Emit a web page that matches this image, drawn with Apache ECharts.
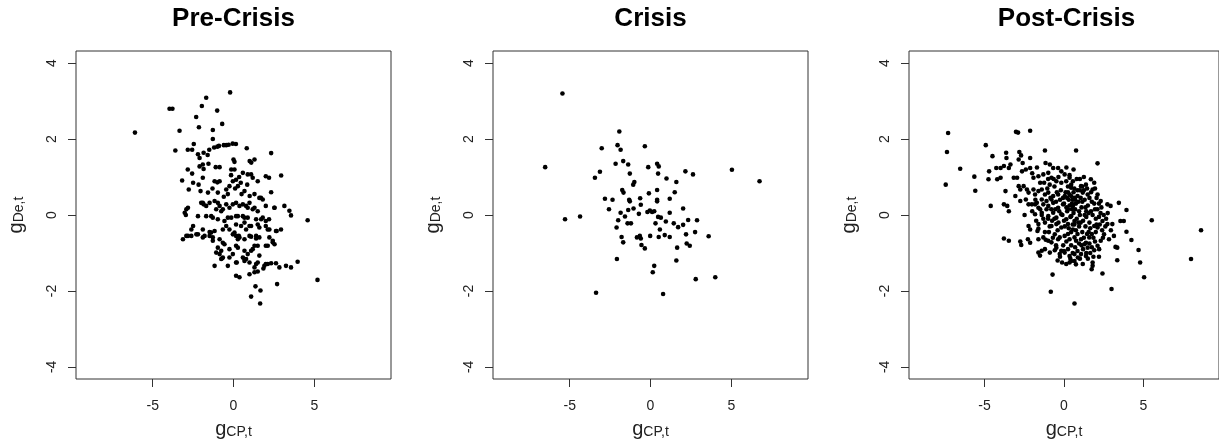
<!DOCTYPE html>
<html>
<head>
<meta charset="utf-8">
<script src="https://cdn.jsdelivr.net/npm/echarts@6/dist/echarts.min.js"></script>
<style>html,body{margin:0;padding:0;background:#fff;}#c{width:1219px;height:448px;}</style>
</head>
<body>
<div id="c"></div>
<script>
// ---- data ----
const panelTitles = ['Pre-Crisis', 'Crisis', 'Post-Crisis'];
const xTicks = [-5, 0, 5];
const yTicks = [-4, -2, 0, 2, 4];

const preCrisis = [
[-6.1,2.17],[-3.96,2.8],[-3.78,2.8],[-3.34,2.22],[-3.6,1.7],[-1.69,3.09],[-1.96,2.87],[-2.31,2.58],[-2.14,2.31],[-1.01,2.75],[-1.28,2.24],[-1.28,2.0],[-0.7,2.4],[-0.21,3.23],[0.82,1.76],[2.33,1.63],[2.95,1.04],
[-1.5,1.72],[-1.2,1.78],[-0.9,1.82],[-0.6,1.84],[-0.3,1.85],[-0.05,1.88],[0.15,1.87],[-1.0,1.8],[-0.45,1.84],
[-2.46,1.87],[-2.83,1.72],[-2.56,1.72],[-2.2,1.6],[-2.1,1.5],[-1.85,1.64],[-1.6,1.58],[-1.9,1.33],[-1.55,1.35],
[0.0,1.46],[0.06,1.4],[1.0,1.42],[1.3,1.46],[1.1,1.38],
[-2.83,1.2],[-2.56,1.09],[-3.18,0.91],[-2.77,0.67],[-2.1,1.28],[-1.85,1.21],[-1.1,1.26],[-0.86,1.26],[-1.9,0.98],[-1.17,0.89],[-0.86,0.89],[-1.0,0.86],[-0.14,1.2],[0.06,1.2],[0.58,1.11],[0.88,1.07],[1.09,1.07],[1.19,0.98],[1.5,0.89],[2.0,1.02],[2.2,0.98],
[-2.16,0.8],[-2.04,0.63],[-1.58,0.59],[-0.97,0.59],[-0.45,0.67],[-0.25,0.76],[-0.04,0.89],[0.16,0.93],[0.27,0.76],[0.68,0.63],[1.0,0.5],[1.7,0.45],[2.33,0.6],[-0.35,0.55],[0.1,0.7],[0.45,0.85],[-0.6,0.48],[1.3,0.55],[0.85,0.8],[-1.3,0.7],[-2.5,0.85],[-0.15,1.05],[0.35,1.0],[0.5,0.55],
[-3.02,0.06],[-2.92,0.15],[-2.82,0.19],[-2.95,0.0],[-2.2,-0.03],[-2.0,0.32],[-1.85,0.28],[-1.69,-0.03],[-1.38,-0.03],[-1.17,0.37],[-0.97,0.32],[-0.86,0.24],[-0.66,0.15],[-0.45,0.28],[-0.25,0.19],[0.16,0.32],[0.37,0.24],[0.58,0.28],[0.78,0.24],[0.99,0.32],[1.3,0.19],[1.6,0.45],[1.81,0.41],[2.0,0.24],[2.53,0.19],[3.15,0.24],[3.46,0.11],[3.56,-0.01],[4.59,-0.14],
[-1.28,-0.07],[-0.97,-0.11],[-0.56,-0.16],[-0.14,-0.07],[0.16,-0.03],[0.58,-0.03],[0.88,-0.07],[1.4,-0.11],[1.71,-0.11],[2.0,-0.16],
[-2.5,-0.29],[-2.61,-0.38],[-1.9,-0.38],[-1.38,-0.46],[-1.17,-0.42],[-0.66,-0.38],[-0.45,-0.29],[-0.25,-0.38],[0.16,-0.25],[0.47,-0.29],[0.68,-0.2],[0.99,-0.29],[1.5,-0.25],[1.6,-0.33],[2.0,-0.29],[2.22,-0.38],[2.63,-0.42],[2.94,-0.38],
[-3.13,-0.64],[-2.82,-0.55],[-2.61,-0.55],[-2.2,-0.51],[-1.9,-0.59],[-1.48,-0.55],[-1.28,-0.59],[-1.28,-0.68],[-0.86,-0.64],[-0.66,-0.73],[-0.56,-0.77],[-0.04,-0.51],[0.16,-0.55],[0.37,-0.59],[0.68,-0.64],[0.99,-0.55],[1.4,-0.55],[1.6,-0.59],[2.22,-0.59],[2.43,-0.68],
[-0.97,-0.86],[-0.76,-0.94],[-0.86,-1.03],[-0.66,-1.12],[-0.76,-1.16],[-0.25,-0.9],[0.16,-0.81],[0.27,-0.86],[0.68,-0.94],[0.88,-1.03],[0.68,-1.16],[1.19,-0.9],[1.5,-0.81],[2.12,-0.81],[-0.25,-1.12],
[-1.17,-1.34],[-0.35,-1.34],[0.16,-1.25],[0.68,-1.21],[0.99,-1.25],[1.4,-1.29],[1.3,-1.38],[1.91,-1.34],[2.12,-1.29],[2.33,-1.27],[2.63,-1.27],[2.84,-1.38],[3.25,-1.34],[3.56,-1.38],[3.97,-1.23],
[0.16,-1.6],[0.37,-1.64],[0.99,-1.56],[1.3,-1.51],[1.5,-1.49],[5.2,-1.71],[2.7,-1.82],[1.36,-1.88],[1.67,-1.99],[1.09,-2.15],[1.65,-2.33],
[-1.9,0.32],[-1.07,0.15],[-0.76,0.10],[-0.04,0.28],[0.88,0.19],[1.19,0.15],[1.5,0.10],[2.54,0.19],[-1.48,0.32],[-1.69,0.24],[-0.35,-0.07],[0.27,-0.03],[0.68,-0.07],[1.81,-0.07],[2.2,-0.11],[-1.48,-0.45],[0.06,-0.46],[0.33,-0.55],[0.78,-0.38],[1.09,-0.29],[2.12,-0.38],[2.67,-0.42],[-2.92,-0.55],[-2.3,-0.51],[-1.79,-0.55],[0.27,-0.64],[1.09,-0.57],[1.4,-0.62],[2.43,-0.72],[2.54,-0.77],[-1.07,-0.99],[1.3,-0.81],[2.0,-0.81],[-0.7,-1.14],[-0.04,-1.03],[0.58,-1.12],[0.78,-1.16],[1.09,-0.94],[1.6,-1.07],[0.2,-1.25],[1.5,-1.25],[2.0,-1.29],[1.85,-1.41]
];

const crisis = [
[-5.45,3.2],[-6.52,1.26],[-1.93,2.2],[-2.04,1.84],[-1.85,1.72],[-3.02,1.76],[-0.35,1.81],[-2.16,1.35],[-1.69,1.42],[-1.38,1.33],[-3.13,1.14],[-3.44,0.98],[-1.28,1.09],[-0.14,1.26],[0.41,1.35],[0.51,1.28],[0.47,1.09],[0.99,0.96],[1.6,0.87],[2.16,1.15],[2.63,1.07],[5.04,1.19],[6.75,0.89],[-1.0,0.87],[-1.07,0.8],[-1.75,0.66],[-1.67,0.59],[0.41,0.66],[-0.1,0.57],[1.5,0.6],[-2.82,0.43],[-2.35,0.4],[-1.32,0.4],[-1.28,0.36],[-0.64,0.44],[-0.6,0.27],[0.41,0.4],[0.41,0.36],[1.19,0.43],[-2.57,0.15],[-1.85,0.06],[-1.38,0.13],[-1.05,0.17],[-0.72,0.03],[-0.19,0.08],[-0.04,0.12],[0.1,0.08],[0.23,0.1],[1.19,0.06],[2.02,0.17],[-5.29,-0.11],[-4.36,-0.04],[-2.0,-0.14],[-1.58,-0.04],[-2.1,-0.33],[-1.42,-0.22],[-1.21,-0.22],[0.31,-0.22],[0.47,-0.05],[0.64,-0.07],[0.95,-0.17],[1.44,-0.22],[1.71,-0.32],[2.02,-0.26],[2.33,-0.13],[2.88,-0.14],[0.58,-0.38],[-1.79,-0.58],[-1.69,-0.72],[-0.84,-0.59],[-0.66,-0.55],[-0.6,-0.62],[-0.02,-0.55],[0.51,-0.58],[0.88,-0.53],[1.19,-0.58],[2.2,-0.51],[2.76,-0.45],[3.6,-0.56],[-0.56,-0.79],[-0.35,-0.88],[1.65,-0.86],[2.24,-0.75],[2.43,-0.81],[-2.08,-1.16],[1.6,-1.2],[0.23,-1.34],[0.14,-1.51],[2.8,-1.69],[4.01,-1.64],[-3.37,-2.05],[0.78,-2.08]
];

const postCrisis = [
[-7.29,2.16],[-7.36,1.66],[-7.44,0.8],[-6.53,1.22],[-5.64,1.01],[-5.58,0.64],[-4.92,1.84],[-4.61,0.24],[-4.5,1.55],[-4.71,1.15],[-4.75,0.94],[-4.26,1.24],[-3.99,1.24],[-3.78,1.29],[-4.2,0.94],[-3.99,0.98],[-3.64,1.64],[-3.62,1.5],[-3.78,0.28],[-3.57,0.24],[-3.47,0.1],[-3.47,1.24],[-3.37,1.33],[-3.68,0.63],[-3.78,-0.62],[-3.47,-0.68],[-3.02,2.19],[-2.89,2.17],[-2.13,2.22],[-2.81,1.66],[-2.7,1.57],[-2.85,1.46],[-2.6,1.37],[-2.13,1.5],[-2.95,0.98],[-2.64,1.15],[-2.4,1.2],[-2.13,1.24],[-3.16,0.98],[-2.85,0.76],[-2.75,0.67],[-3.06,0.5],[-2.54,0.76],[-2.33,0.67],[-2.23,0.59],[-2.75,0.37],[-2.4,0.41],[-2.23,0.28],[-1.92,0.67],[-1.82,0.54],[-2.48,0.0],[-2.23,-0.29],[-2.13,-0.38],[-2.75,-0.7],[-2.69,-0.79],[-2.27,-0.64],[-2.13,-0.73],[-1.67,-0.42],[-1.2,1.7],[-1.16,1.37],[-0.89,1.33],[-0.68,1.24],[-0.37,1.24],[-0.17,1.15],[0.04,1.07],[0.76,1.7],[-1.92,0.98],[-1.61,1.02],[-1.3,1.07],[-0.99,1.11],[-0.79,0.98],[-0.48,0.89],[-0.17,0.85],[0.14,0.89],[0.45,0.8],[-1.61,0.63],[-1.4,0.67],[-1.2,0.54],[-0.99,0.59],[-0.68,0.5],[-0.37,0.54],[-0.06,0.45],[0.35,0.54],[0.66,0.45],
[-1.82,0.28],[-1.61,0.19],[-1.3,0.28],[-0.99,0.24],[-0.68,0.32],[-0.37,0.19],[-0.06,0.28],[0.25,0.15],[0.56,0.24],
[-1.82,0.02],[-1.4,0.06],[-0.99,-0.03],[-0.68,0.06],[-0.48,-0.07],[-0.17,0.02],[0.14,-0.11],[0.45,-0.03],[0.66,-0.16],
[-1.61,-0.24],[-1.2,-0.2],[-0.79,-0.29],[-0.48,-0.24],[-0.17,-0.33],[0.25,-0.24],[0.56,-0.38],
[-0.58,-0.51],[-0.27,-0.59],[0.04,-0.55],[0.35,-0.64],[0.66,-0.59],[-1.3,-0.59],[-0.99,-0.68],[-1.61,-0.64],
[-1.4,-0.94],[-1.2,-0.9],[-0.89,-0.99],[-0.58,-0.93],[-0.27,-1.03],[0.04,-0.99],[0.35,-1.08],[0.66,-1.03],
[-0.12,-1.25],[0.14,-1.29],[0.45,-1.21],[-0.72,-1.57],[-0.83,-2.02],[0.66,-2.33],
[-1.61,-0.36],[-2.02,0.28],[-1.71,0.32],[-1.4,0.41],[-1.1,0.37],[-0.79,0.41],[-1.61,-0.99],[-1.51,-1.07],[-0.79,-0.72],[-0.37,-0.64],[-0.48,-0.86],[-0.17,-0.94],
[2.11,1.36],[0.35,0.98],[0.56,0.89],[0.45,0.72],[1.07,0.76],[1.38,0.8],[1.69,0.94],[1.9,0.85],[1.8,0.67],[1.18,0.59],[1.49,0.54],[2.11,0.54],[2.31,0.37],[2.73,0.28],[2.93,0.24],[3.45,0.32],[3.93,0.13],[5.52,-0.14],[8.62,-0.4],[7.99,-1.16],[3.55,-0.16],[3.76,-0.16],[3.93,-0.44],[4.24,-0.66],[4.69,-0.92],[4.79,-1.25],[5.04,-1.64],[3.35,-1.19],[3.24,-0.84],[3.35,-0.86],[3.14,-0.55],[3.04,-0.24],[2.73,-0.24],[2.42,-0.16],[2.11,-0.33],[1.9,-0.29],[2.42,-1.54],[2.99,-1.95],[1.8,-1.25],[1.8,-1.34],[1.74,-1.43],[0.66,-1.21],[1.18,-1.29],[0.35,-1.25],[1.28,-0.77],[1.49,-0.86],[1.9,-0.93],[2.21,-0.9],[0.76,-0.68],[1.07,-0.64],[1.38,-0.73],[1.59,-0.59],[1.07,-1.03],[1.38,-1.08],[0.87,-1.12],[2.52,-0.51],[2.83,-0.64],[2.31,-0.68],[2.11,-0.81],
[0.1,0.6],[0.3,0.4],[0.5,0.3],[0.7,0.15],[0.9,0.35],[1.1,0.2],[1.3,0.4],[1.5,0.25],[1.7,0.1],[1.9,0.3],[2.1,0.15],[2.3,0.05],[0.2,0.1],[0.4,-0.05],[0.6,0.05],[0.8,-0.1],[1.0,0.0],[1.2,-0.15],[1.4,-0.05],[1.6,-0.2],[1.8,0.0],[2.0,-0.1],[0.0,-0.15],[-0.3,0.1],[-0.5,0.35],[-0.2,0.65],[0.25,0.75],[0.6,0.6],[0.85,0.5],[1.05,0.45],[1.25,0.65],[1.6,0.45],[-0.8,0.15],[-1.0,-0.1],[-0.6,-0.1],[0.3,-0.35],[0.55,-0.25],[0.75,-0.4],[0.95,-0.3],[1.15,-0.45],[1.35,-0.3],[1.55,-0.45],[1.75,-0.5],[2.0,-0.45],[2.25,-0.25],[2.5,0.0],[2.65,-0.1],[0.15,-0.7],[0.45,-0.8],[0.7,-0.85],[0.95,-0.75],[1.2,-0.9],[1.65,-1.0],[1.85,-1.1],[0.0,0.3],[-0.1,0.0],[0.7,0.4],[1.0,0.65],[1.4,0.1],[0.5,0.15],[0.9,-0.2],[1.3,0.0],[0.2,0.45],[-0.4,-0.4],[-0.9,-0.3],[-1.1,0.15],[-1.3,-0.1],[2.2,0.3],[2.6,-0.3],[2.4,-0.4],[0.0,-0.95],[-0.25,-1.1],[0.55,-1.0],[1.0,-1.15],[1.5,-1.15],[1.95,-0.7],[2.2,-1.1],[0.35,1.05],[0.8,0.95],[-0.6,0.75],[-0.9,0.8],[-1.5,0.85],[-2.0,1.1],[-1.7,1.25],[-1.0,0.95],[-1.8,0.4],[-1.5,0.15],[-0.7,-0.6],[-1.2,-0.45],
[0.05,0.5],[0.25,0.6],[0.45,0.5],[0.65,0.7],[0.85,0.65],[1.15,0.75],[1.45,0.7],[1.7,0.6],[1.95,0.7],[2.05,0.45],[0.15,0.2],[0.35,0.25],[0.55,0.4],[0.75,0.3],[0.95,0.1],[1.15,0.35],[1.35,0.2],[1.55,0.05],[1.75,0.35],[1.95,0.15],[2.2,-0.05],[2.35,0.2],[0.05,-0.3],[0.25,-0.5],[0.45,-0.45],[0.65,-0.25],[0.85,-0.5],[1.05,-0.2],[1.25,-0.6],[1.45,-0.5],[1.65,-0.35],[1.85,-0.6],[2.05,-0.25],[-0.35,-0.2],[-0.55,0.15],[-0.75,-0.15],[-0.25,0.4],[-0.45,0.6],[-0.85,0.45],[-1.05,0.7],[-1.25,0.85],[-0.65,0.95],[-0.35,1.0],[0.15,1.25],[0.6,1.2],[1.0,0.95],[1.25,1.0],[-1.15,-0.65],[-0.95,-0.45],[-0.5,-0.8],[-0.05,-0.8],[0.25,-0.9],[0.85,-0.95],[1.1,-0.8],[1.4,-1.0],[1.6,-0.75],[0.4,-1.15],[0.75,-1.3],[-0.4,-1.2],[1.75,-0.85],[-1.4,0.0],[-1.75,-0.15],[-2.0,0.1],[2.45,-0.6],[2.75,0.05],[2.95,-0.4]
];

const panelData = [preCrisis, crisis, postCrisis];

// ---- layout ----
const FONT = 'Liberation Sans, Arial, sans-serif';
const gridLefts = [76, 493, 909];
const gridW = 315, gridTop = 51, gridH = 328;

const chart = echarts.init(document.getElementById('c'), null, {renderer: 'canvas'});
const rich = {
  g: {fontSize: 20, fontFamily: FONT, color: '#222', lineHeight: 20},
  s: {fontSize: 14, fontFamily: FONT, color: '#222', lineHeight: 14, verticalAlign: 'bottom'}
};

const option = {
  backgroundColor: '#fff',
  animation: false,
  title: panelTitles.map((t, i) => ({
    text: t, left: gridLefts[i] + gridW / 2, top: 19, padding: 0,
    textAlign: 'center', textVerticalAlign: 'middle',
    textStyle: {fontSize: 26, fontWeight: 'bold', color: '#000', fontFamily: FONT}
  })),
  grid: gridLefts.map(l => ({
    left: l, top: gridTop, width: gridW, height: gridH,
    show: true, borderColor: '#333', borderWidth: 1, backgroundColor: 'transparent', containLabel: false
  })),
  xAxis: gridLefts.map((l, i) => ({
    type: 'value', gridIndex: i, min: -9.75, max: 9.75, position: 'bottom',
    name: '{g|g}{s|CP,t}', nameLocation: 'middle', nameGap: 40,
    nameTextStyle: {rich},
    axisLine: {show: false, onZero: false}, splitLine: {show: false},
    axisTick: {show: true, length: 8, lineStyle: {color: '#333', width: 1}, customValues: xTicks},
    axisLabel: {customValues: xTicks, margin: 20, fontSize: 14, color: '#222', fontFamily: FONT}
  })),
  yAxis: gridLefts.map((l, i) => ({
    type: 'value', gridIndex: i, min: -4.32, max: 4.32, position: 'left',
    name: '{g|g}{s|De,t}', nameLocation: 'middle', nameGap: 50, nameRotate: 90,
    nameTextStyle: {rich},
    axisLine: {show: false, onZero: false}, splitLine: {show: false},
    axisTick: {show: true, length: 8, lineStyle: {color: '#333', width: 1}, customValues: yTicks},
    axisLabel: {customValues: yTicks, rotate: 90, margin: 17, fontSize: 14, color: '#222', fontFamily: FONT}
  })),
  series: panelData.map((d, i) => ({
    type: 'scatter', xAxisIndex: i, yAxisIndex: i, data: d,
    symbol: 'circle', symbolSize: 4.6, itemStyle: {color: '#000', opacity: 1},
    emphasis: {disabled: true}
  }))
};
chart.setOption(option);
</script>
</body>
</html>
